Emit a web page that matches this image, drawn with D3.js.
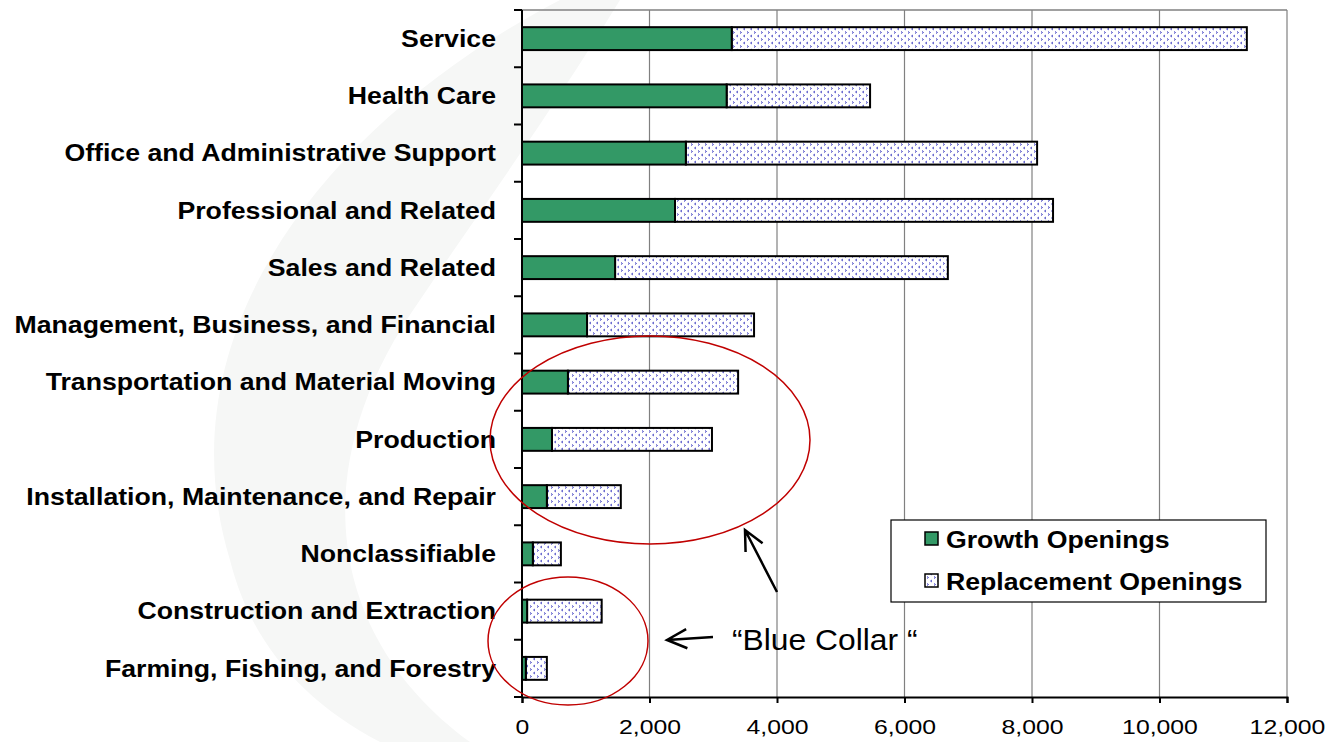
<!DOCTYPE html>
<html>
<head>
<meta charset="utf-8">
<script src="https://cdn.jsdelivr.net/npm/d3@7"></script>
<style>
  body { margin: 0; background: #fff; }
  text { font-family: "Liberation Sans", Arial, sans-serif; }
</style>
</head>
<body>
<div id="chart"></div>
<script>
// categories top to bottom
var categories = ["Service", "Health Care", "Office and Administrative Support",
  "Professional and Related", "Sales and Related", "Management, Business, and Financial",
  "Transportation and Material Moving", "Production", "Installation, Maintenance, and Repair",
  "Nonclassifiable", "Construction and Extraction", "Farming, Fishing, and Forestry"];
var growth = [3290, 3210, 2570, 2400, 1460, 1020, 720, 470, 390, 170, 80, 60];
var replacement = [8080, 2250, 5510, 5930, 5220, 2620, 2670, 2510, 1160, 440, 1170, 330];
var xTicks = [0, 2000, 4000, 6000, 8000, 10000, 12000];
var seriesNames = ["Growth Openings", "Replacement Openings"];

var W = 1325, H = 742;
var margin = { top: 10, right: 38, bottom: 45, left: 522 };
var width = W - margin.left - margin.right,
    height = H - margin.top - margin.bottom;
var stretch = 1.16; // text in the picture is a bit wide

var svg = d3.select("#chart").append("svg")
  .attr("width", W).attr("height", H);

// pattern for replacement openings
var defs = svg.append("defs");
var pat = defs.append("pattern").attr("id", "dots")
  .attr("patternUnits", "userSpaceOnUse").attr("width", 7).attr("height", 7);
pat.append("rect").attr("width", 7).attr("height", 7).attr("fill", "#fff");
pat.append("path").attr("d", "M1,0.5 L2.5,1.5 L1,2.5 M6,4 L4.5,5 L6,6")
  .attr("stroke", "#3c3cc0").attr("stroke-width", 0.9).attr("fill", "none");

// faint background swoosh
svg.append("path")
  .attr("d", "M560,0 C330,120 160,330 230,560 C250,640 300,700 380,742 L470,742 C330,640 300,470 420,300 C480,210 540,130 620,0 Z")
  .attr("fill", "#f6f7f6");

var g = svg.append("g").attr("transform", "translate(" + margin.left + "," + margin.top + ")");

var x = d3.scaleLinear().domain([0, 12000]).range([0, width]);
var y = d3.scaleBand().domain(categories).range([0, height]).paddingInner(0.6).paddingOuter(0.3);

// grid
g.selectAll(".grid").data(xTicks.slice(1)).enter().append("line")
  .attr("x1", function (d) { return x(d); }).attr("x2", function (d) { return x(d); })
  .attr("y1", 0).attr("y2", height)
  .attr("stroke", "#808080").attr("stroke-width", 1.2);
g.append("line").attr("x1", 0).attr("x2", width).attr("y1", 0).attr("y2", 0)
  .attr("stroke", "#808080").attr("stroke-width", 1.5);

// bars
var rows = categories.map(function (c, i) { return { cat: c, g: growth[i], r: replacement[i] }; });
g.selectAll(".rep").data(rows).enter().append("rect")
  .attr("x", function (d) { return x(d.g); })
  .attr("y", function (d) { return y(d.cat); })
  .attr("width", function (d) { return x(d.g + d.r) - x(d.g); })
  .attr("height", y.bandwidth())
  .attr("fill", "url(#dots)").attr("stroke", "#000").attr("stroke-width", 2);
g.selectAll(".gr").data(rows).enter().append("rect")
  .attr("x", 0)
  .attr("y", function (d) { return y(d.cat); })
  .attr("width", function (d) { return x(d.g); })
  .attr("height", y.bandwidth())
  .attr("fill", "#339966").attr("stroke", "#000").attr("stroke-width", 2);

// x axis
var xAxis = g.append("g").attr("transform", "translate(0," + height + ")")
  .call(d3.axisBottom(x).tickValues(xTicks).tickFormat(d3.format(",")).tickSize(6).tickPadding(16));
xAxis.select(".domain").attr("stroke", "#000").attr("stroke-width", 2);
xAxis.selectAll(".tick line").attr("stroke", "#000").attr("stroke-width", 2);
xAxis.selectAll(".tick text").attr("font-size", 21).attr("fill", "#000")
  .attr("transform", function () {
    var yy = +d3.select(this).attr("y");
    return "translate(0," + yy + ") scale(1.18,1) translate(0," + (-yy) + ")";
  });

// y axis line, ticks between categories
g.append("line").attr("x1", 0).attr("x2", 0).attr("y1", 0).attr("y2", height)
  .attr("stroke", "#000").attr("stroke-width", 2);
var bounds = categories.map(function (c) { return y(c) - y.step() * 0.3; }).concat([height]);
g.selectAll(".ytick").data(bounds).enter().append("line")
  .attr("x1", -8).attr("x2", 0)
  .attr("y1", function (d) { return d; }).attr("y2", function (d) { return d; })
  .attr("stroke", "#000").attr("stroke-width", 2);
g.selectAll(".ylab").data(categories).enter().append("text")
  .attr("transform", function (d) {
    return "translate(-26," + (y(d) + y.bandwidth() / 2) + ") scale(" + stretch + ",1)";
  })
  .attr("dy", "0.36em")
  .attr("text-anchor", "end").attr("font-size", 23).attr("font-weight", "bold")
  .text(function (d) { return d; });

// legend
var lg = svg.append("g").attr("transform", "translate(891,520)");
lg.append("rect").attr("width", 375).attr("height", 82).attr("fill", "#fff")
  .attr("stroke", "#000").attr("stroke-width", 1.2);
lg.selectAll(".sw").data(seriesNames).enter().append("rect")
  .attr("x", 34).attr("y", function (d, i) { return 12 + i * 42; })
  .attr("width", 13).attr("height", 13)
  .attr("fill", function (d, i) { return i === 0 ? "#339966" : "url(#dots)"; })
  .attr("stroke", "#000").attr("stroke-width", 1.5);
lg.selectAll(".lt").data(seriesNames).enter().append("text")
  .attr("transform", function (d, i) { return "translate(55," + (28 + i * 42) + ") scale(" + stretch + ",1)"; })
  .attr("font-size", 23).attr("font-weight", "bold")
  .text(function (d) { return d; });

// annotations
svg.append("ellipse").attr("cx", 650).attr("cy", 440).attr("rx", 160).attr("ry", 104)
  .attr("fill", "none").attr("stroke", "#c00000").attr("stroke-width", 1.5);
svg.append("ellipse").attr("cx", 568).attr("cy", 641).attr("rx", 80).attr("ry", 64)
  .attr("fill", "none").attr("stroke", "#c00000").attr("stroke-width", 1.5);

function arrow(x1, y1, x2, y2) {
  var a = Math.atan2(y2 - y1, x2 - x1), L = 22, s = 0.45;
  svg.append("path")
    .attr("d", "M" + x1 + "," + y1 + " L" + x2 + "," + y2 +
      " M" + (x2 - L * Math.cos(a - s)) + "," + (y2 - L * Math.sin(a - s)) +
      " L" + x2 + "," + y2 +
      " L" + (x2 - L * Math.cos(a + s)) + "," + (y2 - L * Math.sin(a + s)))
    .attr("fill", "none").attr("stroke", "#000").attr("stroke-width", 2.5);
}
arrow(777, 592, 745, 530);
arrow(713, 637, 667, 640);
svg.append("text").attr("transform", "translate(732,650) scale(1.06,1)").attr("font-size", 30)
  .text("\u201CBlue Collar \u201C");
</script>
</body>
</html>
